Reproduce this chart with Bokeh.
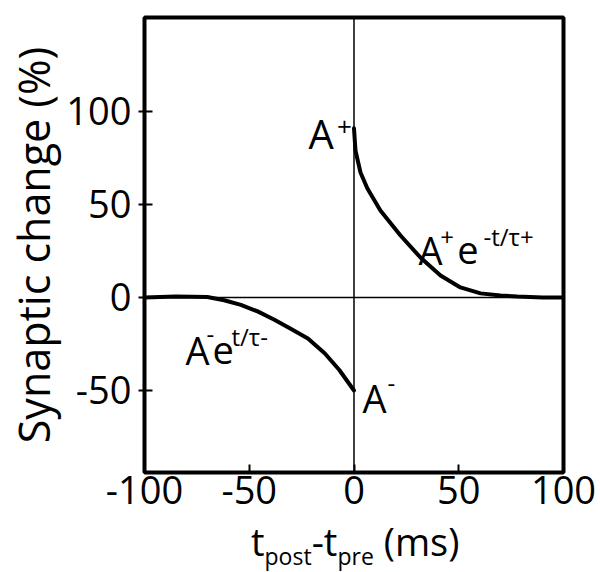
from bokeh.plotting import figure
from bokeh.layouts import column
from bokeh.models import Range1d, FixedTicker, Span, Label, Div
from bokeh.embed import file_html
from bokeh.resources import INLINE

# ---- data ----
# potentiation branch (t_post - t_pre > 0)
t_ltp = [0, 0.7, 3.1, 6.4, 12.6, 22.2, 31.7, 41.3, 50.8, 60.4, 69.9, 78, 90, 100]
dw_ltp = [90.9, 79.0, 67.2, 58.6, 46.8, 33.3, 21.5, 11.8, 5.4, 2.2, 1.1, 0.5, 0.0, 0.0]
# depression branch (t_post - t_pre < 0)
t_ltd = [-100, -85, -70, -62, -54, -46, -38, -30, -22, -14, -7, 0]
dw_ltd = [0.0, 0.5, 0.2, -1.5, -4.0, -7.5, -12.0, -17.0, -22.0, -30.0, -39.0, -50.0]

x_ticks = [-100, -50, 0, 50, 100]
y_ticks = [-50, 0, 50, 100]
y_label = "Synaptic change (%)"
x_label_parts = ["t", "post", "-t", "pre", " (ms)"]   # main, sub, main, sub, main

FONT = "Open Sans"

# ---- main plot ----
p = figure(width=600, height=528, output_backend="svg", toolbar_location=None, title=None,
           x_range=Range1d(-100, 100), y_range=Range1d(-94.1, 150.5),
           min_border_left=144, min_border_right=37, min_border_top=17, min_border_bottom=56)
p.background_fill_color = "white"
p.border_fill_color = "white"
p.grid.visible = False
p.outline_line_color = "black"
p.outline_line_width = 4

p.xaxis.ticker = FixedTicker(ticks=x_ticks)
p.yaxis.ticker = FixedTicker(ticks=y_ticks)
for ax in (p.xaxis, p.yaxis):
    ax.axis_line_color = None
    ax.minor_tick_line_color = None
    ax.major_tick_line_color = "black"
    ax.major_tick_line_width = 2
    ax.major_label_text_font = FONT
    ax.major_label_text_font_size = "38px"
    ax.major_label_text_color = "black"
p.xaxis.major_label_overrides = {t: str(t) for t in x_ticks}
p.yaxis.major_label_overrides = {t: str(t) for t in y_ticks}
p.xaxis.major_tick_in = 8
p.xaxis.major_tick_out = 0
p.xaxis.major_label_standoff = 3
p.yaxis.major_tick_in = 8
p.yaxis.major_tick_out = 6
p.yaxis.major_label_standoff = 7
p.yaxis.axis_label = y_label
p.yaxis.axis_label_text_font = FONT
p.yaxis.axis_label_text_font_size = "43px"
p.yaxis.axis_label_text_font_style = "normal"
p.yaxis.axis_label_text_color = "black"
p.yaxis.axis_label_standoff = 0

# zero lines
p.add_layout(Span(location=0, dimension="width", line_color="black", line_width=1.5))
p.add_layout(Span(location=0, dimension="height", line_color="black", line_width=1.5))

# curves
p.line(t_ltd, dw_ltd, line_color="black", line_width=4, line_join="round", line_cap="round")
p.line(t_ltp, dw_ltp, line_color="black", line_width=4, line_join="round", line_cap="round")


def lab(x, y, text, size):
    p.add_layout(Label(x=x, y=y, text=text, text_font=FONT, text_font_size=f"{size}px",
                       text_color="black", text_align="left", text_baseline="alphabetic"))


# A+ at the top of the LTP branch
lab(-21.7, 88.2, "A", 40)
lab(-8.1, 91.9, "+", 26)
# A+ e^{-t/tau+}
lab(30.8, 25.3, "A", 38)
lab(41.2, 32.3, "+", 24)
lab(49.3, 25.3, "e", 38)
lab(61.8, 32.8, "-t/τ+", 24)
# A- e^{t/tau-}
lab(-80.4, -28.5, "A", 38)
lab(-70.4, -19.9, "-", 24)
lab(-67.5, -28.5, "e", 38)
lab(-58.5, -21.0, "t/τ-", 24)
# A- at the end of the LTD branch
lab(4.1, -53.8, "A", 38)
lab(16.0, -46.2, "-", 24)

# ---- x-axis title: t_post - t_pre (ms) with real subscripts ----
sub = '<span style="font-size:23px; vertical-align:-9px;">{}</span>'
main = '<span>{}</span>'
pieces = [main, sub, main, sub, main]
inner = "".join(f.format(t) for f, t in zip(pieces, x_label_parts))
html = ('<div style="position:relative; left:251px; top:-6px; font-family:\'Open Sans\'; '
        'font-size:38px; line-height:38px; white-space:pre; color:black;">' + inner + '</div>')
xtitle = Div(text=html, width=600, height=44, margin=0)

layout = column(p, xtitle, spacing=0)
open("out.html", "w").write(file_html(layout, INLINE))
